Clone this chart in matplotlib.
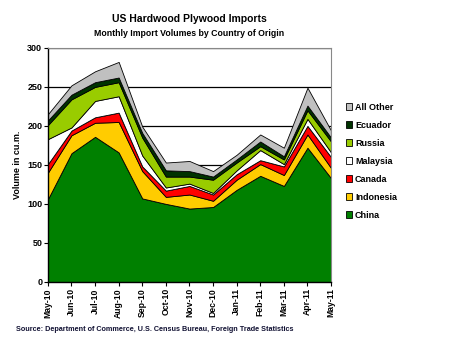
import matplotlib
matplotlib.use("Agg")
import matplotlib.pyplot as plt
from matplotlib.patches import Patch

plt.rcParams['font.family'] = ['Liberation Sans', 'DejaVu Sans']
plt.rcParams['font.weight'] = 'bold'

# months and import volumes (1000 cu.m.)
months = ["May-10", "Jun-10", "Jul-10", "Aug-10", "Sep-10", "Oct-10", "Nov-10",
          "Dec-10", "Jan-11", "Feb-11", "Mar-11", "Apr-11", "May-11"]
china     = [106, 165, 186, 166, 107, 100, 94, 96, 118, 136, 123, 172, 133]
indonesia = [34, 23, 18, 39, 35, 9, 18, 8, 13, 15, 14, 17, 13]
canada    = [11, 6, 7, 12, 6, 8, 11, 8, 7, 5, 11, 11, 14]
malaysia  = [32, 4, 21, 21, 14, 4, 3, 2, 5, 13, 3, 9, 6]
russia    = [18, 36, 18, 18, 23, 14, 9, 17, 10, 5, 6, 11, 14]
ecuador   = [6, 6, 6, 6, 6, 8, 7, 4, 4, 6, 4, 6, 5]
all_other = [8, 12, 14, 20, 8, 10, 13, 7, 6, 9, 11, 23, 9]

names = ["China", "Indonesia", "Canada", "Malaysia", "Russia", "Ecuador", "All Other"]
colors = ["#008000", "#FFCC00", "#FF0000", "#FFFFFF", "#99CC00", "#003300", "#C0C0C0"]

fig = plt.figure(figsize=(4.56, 3.6), dpi=100)
ax = fig.add_axes([0.105, 0.217, 0.621, 0.650])

x = list(range(len(months)))
ax.stackplot(x, china, indonesia, canada, malaysia, russia, ecuador, all_other,
             colors=colors, edgecolor="black", linewidth=0.6, zorder=2)

ax.set_xlim(0, len(months) - 1)
ax.set_ylim(0, 300)
ax.set_yticks(range(0, 301, 50))
ax.yaxis.grid(True, color="black", linewidth=0.9, zorder=1)
ax.set_axisbelow(True)
ax.set_xticks(x)
ax.set_xticklabels(months, rotation=90, fontsize=6.2, fontweight="bold")
ax.tick_params(axis="y", labelsize=6.5, length=3, width=0.8, pad=1)
ax.tick_params(axis="x", length=3, width=0.8, pad=1.5)
for lbl in ax.get_yticklabels():
    lbl.set_fontweight("bold")
ax.spines["top"].set_color("#888888")
ax.spines["right"].set_color("#888888")
ax.spines["left"].set_linewidth(1.0)
ax.spines["bottom"].set_linewidth(1.0)
ax.set_ylabel("Volume in cu.m.", fontsize=6.5, fontweight="bold", labelpad=4)

fig.text(0.415, 0.938, "US Hardwood Plywood Imports", ha="center", fontsize=7.5,
         fontweight="bold")
fig.text(0.415, 0.900, "Monthly Import Volumes by Country of Origin", ha="center",
         fontsize=6.3, fontweight="bold")

handles = [Patch(facecolor=c, edgecolor="black", linewidth=0.6) for c in colors]
fig.legend(handles[::-1], names[::-1], loc="upper left", bbox_to_anchor=(0.75, 0.725),
           frameon=False, fontsize=6.5, handlelength=0.75, handleheight=0.75,
           handletextpad=0.3, labelspacing=1.0, borderaxespad=0)

fig.text(0.035, 0.08, "Source: Department of Commerce, U.S. Census Bureau, Foreign Trade Statistics",
         fontsize=5.2, fontweight="bold", color="#111133")

fig.savefig("out.png", dpi=100)
